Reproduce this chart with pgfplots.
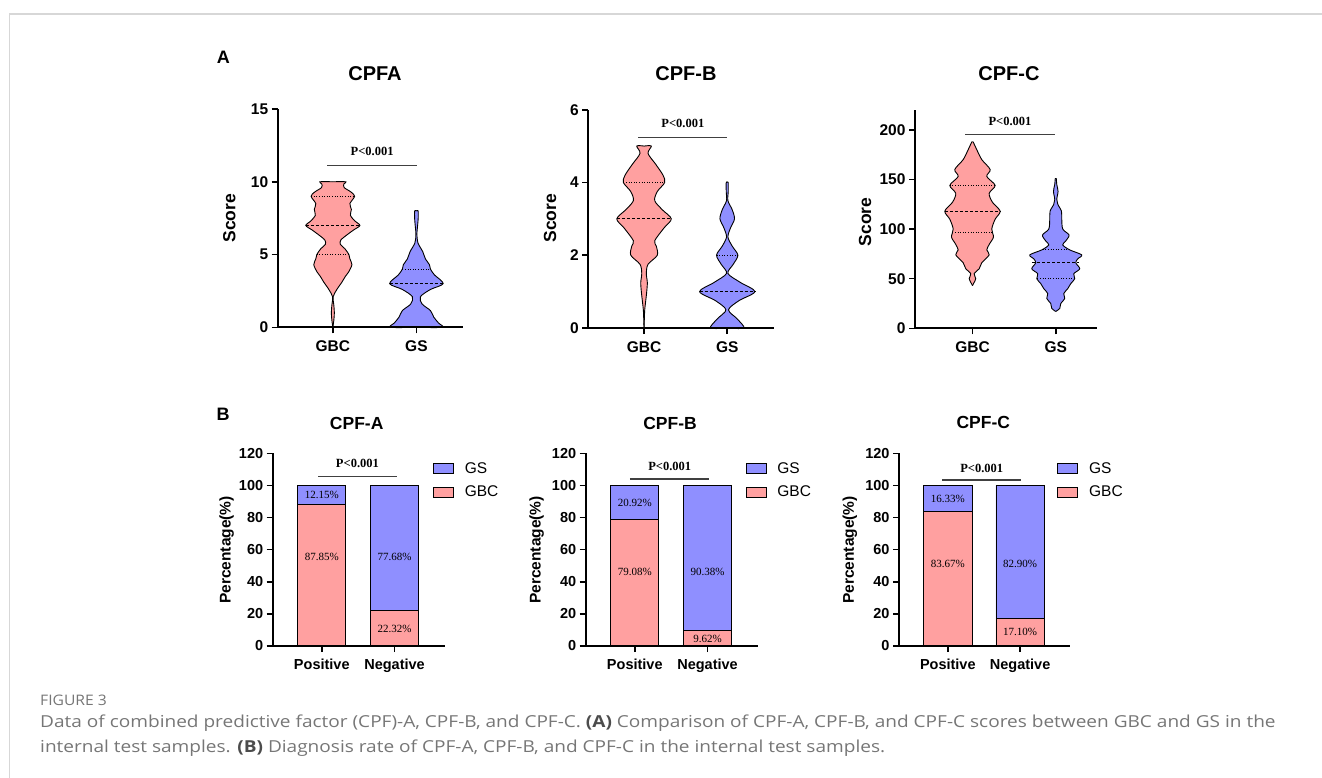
\documentclass[border=0pt]{standalone}
\usepackage{fontspec}
\setmainfont{Liberation Sans}
\newfontfamily\tms{Liberation Serif}
\newfontfamily\capf{Open Sans}
\usepackage{graphicx}
\usepackage{pgfplots}
\usepackage{pgfplotstable}
\usepgfplotslibrary{fillbetween}
\pgfplotsset{compat=1.18}

\definecolor{pk}{RGB}{255,160,160}
\definecolor{bl}{RGB}{143,143,255}
\definecolor{capgray}{RGB}{118,118,118}
\definecolor{framegray}{RGB}{215,215,215}
\newcommand{\fs}[1]{\fontsize{#1}{#1}\selectfont}

% violin half-widths (w, in px at 83.3 px per category) against score y
\pgfplotstableread{
y w
0 0
0.5 1.0
1.0 1.5
1.5 1.0
2.1 0.3
2.6 4
3.1 9
3.5 12.5
3.8 15.7
4.3 19
4.7 17
5.0 16
5.4 12
5.7 7.5
6.0 8
6.4 15
6.7 21
7.0 27
7.3 22
7.7 17.5
8.1 18.5
8.5 17
9.0 21.7
9.3 18
9.6 11.3
9.85 11
10 13
10 0
}\vAa
\pgfplotstableread{
y w
0 0
0 25.7
0.3 22
0.7 17.3
1.15 14
1.6 5.7
2.1 4
2.6 14
3.0 26.7
3.6 18
4.0 14
4.3 13
4.7 9
5.2 6.3
5.8 1.5
6.4 0.5
7.0 1.2
7.5 1.8
8.0 1.7
8.0 0
}\vAb
\pgfplotstableread{
y w
0 0
0.25 0.3
0.5 0.7
0.75 1.7
1.0 2.7
1.25 3.3
1.5 2.3
1.75 4
2.0 13.3
2.25 12.3
2.4 10.7
2.75 20
3.0 27.3
3.25 18.3
3.5 10.7
3.75 13.3
4.0 20.7
4.2 19
4.5 11.7
4.8 4
5.0 7.3
5.0 0
}\vBa
\pgfplotstableread{
y w
0 0
0 16.7
0.25 10
0.5 1.3
0.75 11.7
1.0 27.7
1.25 13.3
1.5 0.7
1.75 6
2.0 10.7
2.25 5
2.5 0.7
2.75 3.3
3.0 7.3
3.25 5
3.5 0.7
3.75 1
4.0 1
4.0 0
}\vBb
\pgfplotstableread{
y w
43 0
45 1
50 3.3
55 1.7
60 6.7
66 9.3
74 16.7
79 14.3
85 17
92 21
100 19.3
110 22.7
118 27.7
127 20
136 16.7
144 22.7
153 14.3
160 17.7
170 9.3
180 4.3
185 2
188 0.5
188 0
}\vCa
\pgfplotstableread{
y w
17 0
20 4
25 5
30 9
35 8
40 12
45 15
50 19
55 18
60 24
66 20
70 22
74 26
79 14
84 7
88 10
94 13.3
100 7
110 6
118 5.7
125 2
130 1
138 2.3
145 1
151 0.5
151 0
}\vCb

\newcommand{\violin}[4]{%
  \addplot[draw=black, line width=0.9pt, smooth, tension=0.5, name path=#4r] table[x expr=#1+\thisrow{w}/83.3, y=y]{#2};
  \addplot[draw=black, line width=0.9pt, smooth, tension=0.5, name path=#4l] table[x expr=#1-\thisrow{w}/83.3, y=y]{#2};
  \addplot[fill=#3, draw=none] fill between[of=#4r and #4l];
}
\newcommand{\pct}[2]{\node[font=\tms\fs{11}] at (#1) {#2\%};}

\tikzset{
  pline/.style={draw=black!75, line width=1.1pt},
  dsh/.style={black, line width=0.9pt, dash pattern=on 3pt off 2pt},
  dtt/.style={black, line width=0.9pt, dash pattern=on 1pt off 1.6pt},
}
\pgfplotsset{
  common/.style={scale only axis, axis x line*=bottom, axis y line*=left,
    axis line style={line width=1.8pt,-}, tick align=outside, major tick length=6pt,
    tick style={line width=1.6pt, black}, clip=false, axis on top,
    /pgf/number format/assume math mode=true, xtick={1,2}, ymin=0, enlargelimits=false},
  vstyle/.style={common, width=185.5pt, height=218.3pt, xmin=0.33, xmax=2.56,
    xticklabels={GBC,GS}, tick label style={font=\bfseries\fs{15.5}},
    xticklabel style={yshift=-4pt}},
  bstyle/.style={common, ybar stacked, bar width=48.3pt, width=172pt, height=192.7pt,
    xmin=0.325, xmax=2.69, ymax=120, ytick={0,20,...,120},
    xticklabels={Positive,Negative}, tick label style={font=\bfseries\fs{14.5}},
    xticklabel style={yshift=-3pt},
    reverse legend,
    legend style={draw=none, fill=none, anchor=north west, font=\fs{15.5},
      row sep=7.5pt, inner sep=0pt, cells={anchor=west},
      /tikz/every odd column/.append style={column sep=9pt}}},
  sqleg/.style={legend image code/.code={\draw[##1,line width=0.9pt] (0pt,-5pt) rectangle (20pt,5pt);}},
}

\begin{document}
\begin{tikzpicture}
\begin{scope}[x=1pt,y=-1pt]
\useasboundingbox (0,0) rectangle (1322,778);
\draw[framegray, line width=1.8pt] (9.5,778) -- (9.5,14) -- (1322,14);
\node[font=\bfseries\fs{18}] at (223.3,57.3) {A};
\node[font=\bfseries\fs{18}] at (223,414) {B};
\node[font=\bfseries\fs{20}] at (375,73.3) {CPFA};
\node[font=\bfseries\fs{20}] at (686,73.3) {CPF-B};
\node[font=\bfseries\fs{20}] at (1009,73.3) {CPF-C};
\node[font=\bfseries\fs{17.5}] at (356.7,423) {CPF-A};
\node[font=\bfseries\fs{17.5}] at (670,423) {CPF-B};
\node[font=\bfseries\fs{17.5}] at (983.3,422) {CPF-C};
\node[rotate=90, font=\bfseries\fs{17.5}] at (229.3,218.3) {Score};
\node[rotate=90, font=\bfseries\fs{17.5}] at (550,218.3) {Score};
\node[rotate=90, font=\bfseries\fs{17.5}] at (865,222) {Score};
\node[rotate=90, font=\bfseries\fs{15.5}] at (226.7,550) {Percentage(\%)};
\node[rotate=90, font=\bfseries\fs{15.5}] at (536.7,550) {Percentage(\%)};
\node[rotate=90, font=\bfseries\fs{15.5}] at (850,550) {Percentage(\%)};
\node[anchor=west, font=\capf\fs{14.5}, text=capgray, inner sep=0pt] at (40,700) {\scalebox{1.08}[1]{FIGURE 3}};
\node[anchor=west, font=\capf\fs{16.5}, text=capgray, inner sep=0pt] at (40,723.5) {\scalebox{1.154}[1]{Data of combined predictive factor (CPF)-A, CPF-B, and CPF-C. {\bfseries\color{black!70}(A)} Comparison of CPF-A, CPF-B, and CPF-C scores between GBC and GS in the}};
\node[anchor=west, font=\capf\fs{16.5}, text=capgray, inner sep=0pt] at (40,748) {\scalebox{1.154}[1]{internal test samples. {\bfseries\color{black!70}(B)} Diagnosis rate of CPF-A, CPF-B, and CPF-C in the internal test samples.}};
\end{scope}

% ---------- A: violins ----------
\begin{axis}[vstyle, at={(277.7pt,-327.3pt)}, anchor=south west, ymax=15, ytick={0,5,10,15}, xmin=0.34]
\violin{1}{\vAa}{pk}{aa}
\violin{2}{\vAb}{bl}{ab}
\addplot[dtt] coordinates {(0.74,9)(1.26,9)};
\addplot[dsh] coordinates {(0.676,7)(1.324,7)};
\addplot[dtt] coordinates {(0.808,5)(1.192,5)};
\addplot[dtt] coordinates {(1.832,4)(2.168,4)};
\addplot[dsh] coordinates {(1.68,3)(2.32,3)};
\draw[pline] (axis cs:0.935,11.1) -- (axis cs:2.009,11.1);
\node[font=\tms\bfseries\fs{12.5}] at (axis cs:1.47,12.07) {P<0.001};
\end{axis}

\begin{axis}[vstyle, at={(588.3pt,-328pt)}, anchor=south west, ymax=6, ytick={0,2,4,6}]
\violin{1}{\vBa}{pk}{ba}
\violin{2}{\vBb}{bl}{bb}
\addplot[dtt] coordinates {(0.752,4)(1.248,4)};
\addplot[dsh] coordinates {(0.672,3)(1.328,3)};
\addplot[dtt] coordinates {(1.872,2)(2.128,2)};
\addplot[dsh] coordinates {(1.668,1)(2.332,1)};
\draw[pline] (axis cs:0.93,5.24) -- (axis cs:2.0,5.24);
\node[font=\tms\bfseries\fs{12.5}] at (axis cs:1.467,5.63) {P<0.001};
\end{axis}

\begin{axis}[vstyle, at={(915pt,-328.3pt)}, anchor=south west, ymax=220, ytick={0,50,...,200}, xmin=0.31, xmax=2.5, width=182.4pt]
\violin{1}{\vCa}{pk}{ca}
\violin{2}{\vCb}{bl}{cb}
\addplot[dtt] coordinates {(0.728,144)(1.272,144)};
\addplot[dsh] coordinates {(0.668,118)(1.332,118)};
\addplot[dtt] coordinates {(0.76,97)(1.24,97)};
\addplot[dtt] coordinates {(1.844,79)(2.156,79)};
\addplot[dsh] coordinates {(1.72,66)(2.28,66)};
\addplot[dtt] coordinates {(1.78,50)(2.22,50)};
\draw[pline] (axis cs:0.914,194.9) -- (axis cs:1.99,194.9);
\node[font=\tms\bfseries\fs{12.5}] at (axis cs:1.45,208.3) {P<0.001};
\end{axis}

% ---------- B: stacked bars ----------
\begin{axis}[bstyle, at={(272.7pt,-646pt)}, anchor=south west, legend style={at={(0.93,0.965)}}]
\addplot[fill=pk, draw=black, line width=0.9pt, sqleg] coordinates {(1,87.85) (2,22.32)};
\addplot[fill=bl, draw=black, line width=0.9pt, sqleg] coordinates {(1,12.15) (2,77.68)};
\legend{GBC,GS}
\draw[pline] (axis cs:0.952,105.4) -- (axis cs:2.03,105.4);
\node[font=\tms\bfseries\fs{12.5}] at (axis cs:1.49,113.8) {P<0.001};
\coordinate (a1) at (axis cs:1,93.9);
\coordinate (a2) at (axis cs:1,55.4);
\coordinate (a3) at (axis cs:2,55.4);
\coordinate (a4) at (axis cs:2,10.5);
\end{axis}
\pct{a1}{12.15}\pct{a2}{87.85}\pct{a3}{77.68}\pct{a4}{22.32}

\begin{axis}[bstyle, at={(585.7pt,-646pt)}, anchor=south west, legend style={at={(0.928,0.965)}}]
\addplot[fill=pk, draw=black, line width=0.9pt, sqleg] coordinates {(1,79.08) (2,9.62)};
\addplot[fill=bl, draw=black, line width=0.9pt, sqleg] coordinates {(1,20.92) (2,90.38)};
\legend{GBC,GS}
\draw[pline] (axis cs:0.934,104) -- (axis cs:2.02,104);
\node[font=\tms\bfseries\fs{12.5}] at (axis cs:1.48,112) {P<0.001};
\coordinate (b1) at (axis cs:1,88.8);
\coordinate (b2) at (axis cs:1,46);
\coordinate (b3) at (axis cs:2,46);
\coordinate (b4) at (axis cs:2,4.4);
\end{axis}
\pct{b1}{20.92}\pct{b2}{79.08}\pct{b3}{90.38}\pct{b4}{9.62}

\begin{axis}[bstyle, at={(899pt,-646pt)}, anchor=south west, width=171pt, legend style={at={(0.924,0.965)}}]
\addplot[fill=pk, draw=black, line width=0.9pt, sqleg] coordinates {(1,83.67) (2,17.10)};
\addplot[fill=bl, draw=black, line width=0.9pt, sqleg] coordinates {(1,16.33) (2,82.90)};
\legend{GBC,GS}
\draw[pline] (axis cs:0.926,103.4) -- (axis cs:2.01,103.4);
\node[font=\tms\bfseries\fs{12.5}] at (axis cs:1.47,110.8) {P<0.001};
\coordinate (c1) at (axis cs:1,91.3);
\coordinate (c2) at (axis cs:1,51);
\coordinate (c3) at (axis cs:2,51);
\coordinate (c4) at (axis cs:2,8.9);
\end{axis}
\pct{c1}{16.33}\pct{c2}{83.67}\pct{c3}{82.90}\pct{c4}{17.10}
\end{tikzpicture}
\end{document}
